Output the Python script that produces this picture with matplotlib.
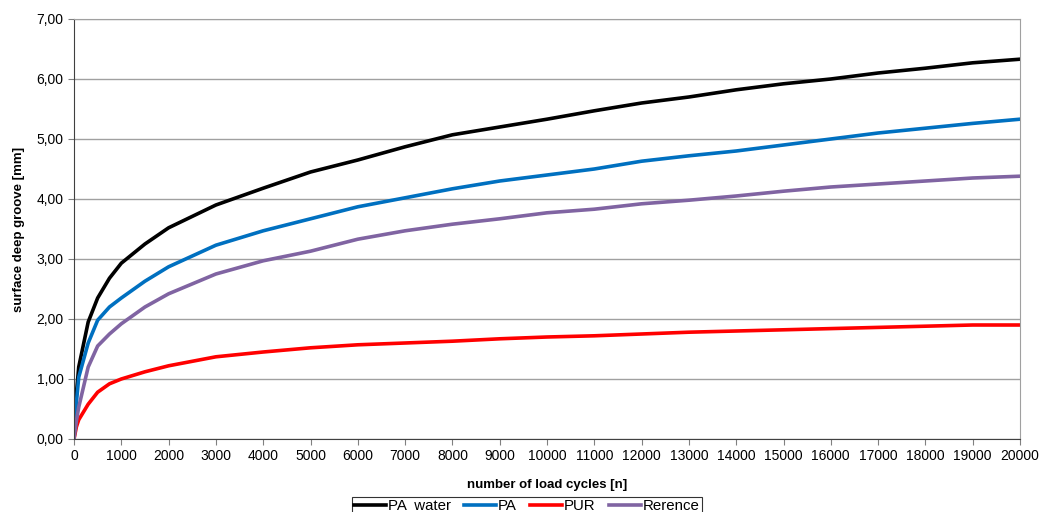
import matplotlib
matplotlib.use("Agg")
import matplotlib.pyplot as plt
from matplotlib.ticker import FuncFormatter, MultipleLocator

plt.rcParams['font.family'] = ['Liberation Sans', 'DejaVu Sans']

cycles = [0, 50, 100, 300, 500, 750, 1000, 1500, 2000, 3000, 4000, 5000, 6000, 7000, 8000,
          9000, 10000, 11000, 12000, 13000, 14000, 15000, 16000, 17000, 18000, 19000, 20000]

pa_water = [0.0, 0.75, 1.2, 1.95, 2.35, 2.68, 2.93, 3.25, 3.52, 3.9, 4.18, 4.45, 4.65, 4.87, 5.07,
            5.2, 5.33, 5.47, 5.6, 5.7, 5.82, 5.92, 6.0, 6.1, 6.18, 6.27, 6.33]
pa = [0.0, 0.6, 1.03, 1.6, 1.98, 2.2, 2.35, 2.63, 2.87, 3.23, 3.47, 3.67, 3.87, 4.02, 4.17,
      4.3, 4.4, 4.5, 4.63, 4.72, 4.8, 4.9, 5.0, 5.1, 5.18, 5.26, 5.33]
pur = [0.0, 0.2, 0.32, 0.58, 0.78, 0.92, 1.0, 1.12, 1.22, 1.37, 1.45, 1.52, 1.57, 1.6, 1.63,
       1.67, 1.7, 1.72, 1.75, 1.78, 1.8, 1.82, 1.84, 1.86, 1.88, 1.9, 1.9]
reference = [0.0, 0.3, 0.53, 1.2, 1.55, 1.75, 1.92, 2.2, 2.42, 2.75, 2.97, 3.13, 3.33, 3.47, 3.58,
             3.67, 3.77, 3.83, 3.92, 3.98, 4.05, 4.13, 4.2, 4.25, 4.3, 4.35, 4.38]

series = [("PA  water", pa_water, "#000000"),
          ("PA", pa, "#0070C0"),
          ("PUR", pur, "#FF0000"),
          ("Rerence", reference, "#8064A2")]

fig = plt.figure(figsize=(10.43, 5.12), dpi=100)
ax = fig.add_axes([74/1043, 1-439/512, (1020-74)/1043, (439-19)/512])

for label, vals, color in series:
    ax.plot(cycles, vals, color=color, lw=2.6, label=label, solid_joinstyle='round')

ax.set_xlim(0, 20000)
ax.set_ylim(0, 7)
ax.xaxis.set_major_locator(MultipleLocator(1000))
ax.yaxis.set_major_locator(MultipleLocator(1))
ax.yaxis.set_major_formatter(FuncFormatter(lambda v, p: f"{v:.2f}".replace('.', ',')))
ax.grid(axis='y', color='#A0A0A0', lw=1)
ax.set_axisbelow(True)
ax.tick_params(axis='both', labelsize=10, direction='out', length=4, color='#808080')
for s in ['left', 'bottom']:
    ax.spines[s].set_color('#404040')
for s in ['top', 'right']:
    ax.spines[s].set_color('#A0A0A0')

ax.set_xlabel("number of load cycles [n]", fontsize=9.5, fontweight='bold', labelpad=11)
ax.set_ylabel("surface deep groove [mm]", fontsize=9.5, fontweight='bold', labelpad=8)

leg = fig.legend(loc='upper center', bbox_to_anchor=(527/1043, 1-497/512), ncol=4,
                 fontsize=10.8, frameon=True, fancybox=False, edgecolor='#000000',
                 handlelength=2.1, columnspacing=0.9, handletextpad=0.15, borderpad=0.15,
                 borderaxespad=0)
leg.get_frame().set_linewidth(0.8)

fig.savefig("out.png", dpi=100)
